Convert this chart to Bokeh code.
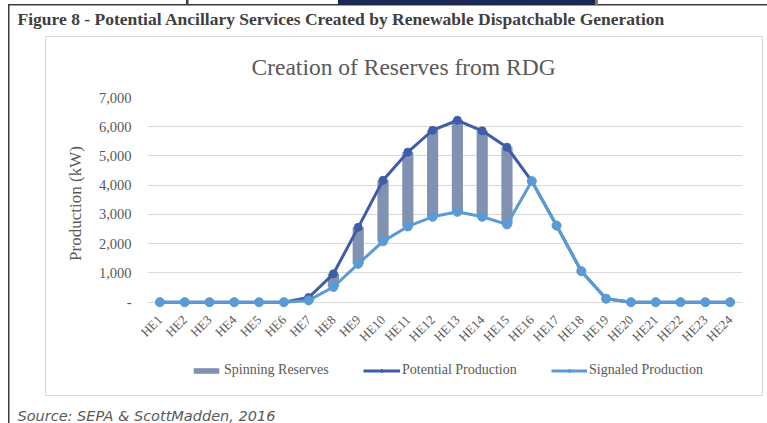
import math
from bokeh.plotting import figure
from bokeh.layouts import column, row
from bokeh.models import (FactorRange, Range1d, FixedTicker, Title, Legend, LegendItem, Label,
                          ColumnDataSource, InlineStyleSheet)
from bokeh.embed import file_html
from bokeh.resources import INLINE

# ---------------- data ----------------
hours = ["HE1", "HE2", "HE3", "HE4", "HE5", "HE6", "HE7", "HE8", "HE9", "HE10", "HE11", "HE12",
         "HE13", "HE14", "HE15", "HE16", "HE17", "HE18", "HE19", "HE20", "HE21", "HE22", "HE23", "HE24"]
potential = [0, 0, 0, 0, 0, 0, 160, 970, 2560, 4170, 5130, 5880,
             6220, 5860, 5300, 4140, 2620, 1060, 120, 0, 0, 0, 0, 0]
signaled = [0, 0, 0, 0, 0, 0, 60, 520, 1310, 2080, 2590, 2920,
            3090, 2920, 2660, 4140, 2620, 1060, 120, 0, 0, 0, 0, 0]
reserves = [pv - sg for pv, sg in zip(potential, signaled)]
y_ticks = [0, 1000, 2000, 3000, 4000, 5000, 6000, 7000]
y_tick_labels = ["-", "1,000", "2,000", "3,000", "4,000", "5,000", "6,000", "7,000"]

fig_title = "Figure 8 - Potential Ancillary Services Created by Renewable Dispatchable Generation"
chart_title = "Creation of Reserves from RDG"
y_label = "Production (kW)"
source_text = "Source: SEPA & ScottMadden, 2016"
series_names = ["Spinning Reserves", "Potential Production", "Signaled Production"]

# ---------------- layout ----------------
W, H = 767, 423
FL, FR, FT, FB = 147, 742, 97, 309
HA = 350            # height of the chart figure
HB = H - HA         # height of the legend / source strip

SERIF = "Liberation Serif"
GRAY = "#595959"
C_RES = "#8091B1"
C_POT = "#3E5CA8"
C_SIG = "#5B9BD5"

src = ColumnDataSource(dict(
    hour=hours, potential=potential, signaled=signaled,
    top=[sg + r for sg, r in zip(signaled, reserves)],
))

p = figure(frame_width=FR - FL, frame_height=FB - FT,
           x_range=FactorRange(*hours, range_padding=0),
           y_range=Range1d(-250, 7000),
           output_backend="svg", toolbar_location=None,
           min_border_left=FL, min_border_right=W - FR,
           min_border_top=FT, min_border_bottom=HA - FB)
p.outline_line_color = None
p.background_fill_color = "white"
p.border_fill_color = "white"
p.xgrid.visible = False
p.ygrid.grid_line_color = "#d9d9d9"
p.ygrid.grid_line_width = 1

# y axis
p.yaxis.ticker = FixedTicker(ticks=y_ticks)
p.yaxis.major_label_overrides = {t: l for t, l in zip(y_ticks, y_tick_labels)}
p.yaxis.axis_line_color = None
p.yaxis.major_tick_line_color = None
p.yaxis.minor_tick_line_color = None
p.yaxis.major_label_standoff = 10
p.yaxis.major_label_text_font = SERIF
p.yaxis.major_label_text_font_size = "14.5px"
p.yaxis.major_label_text_color = GRAY
p.yaxis.axis_label = y_label
p.yaxis.axis_label_text_font = SERIF
p.yaxis.axis_label_text_font_style = "normal"
p.yaxis.axis_label_text_font_size = "17px"
p.yaxis.axis_label_text_color = GRAY
p.yaxis.axis_label_standoff = 11

# x axis
p.xaxis.axis_line_color = None
p.xaxis.major_tick_line_color = None
p.xaxis.minor_tick_line_color = None
p.xaxis.major_label_orientation = math.pi / 4
p.xaxis.major_label_standoff = 2
p.xaxis.major_label_text_font = SERIF
p.xaxis.major_label_text_font_size = "13px"
p.xaxis.major_label_text_color = GRAY

# ---------------- titles (above panel) ----------------
t_chart = Title(text=chart_title, align="left", offset=104, vertical_align="middle",
                text_font=SERIF, text_font_style="normal", text_font_size="23.5px",
                text_color=GRAY, standoff=33)
p.add_layout(t_chart, "above")
t_fig = Title(text=fig_title, align="left", offset=-130, vertical_align="middle",
              text_font=SERIF, text_font_style="bold", text_font_size="17.5px",
              text_color="#404040", standoff=13)
p.add_layout(t_fig, "above")

# ---------------- data glyphs ----------------
p.vbar(x="hour", bottom="signaled", top="top", width=0.45, source=src,
       fill_color=C_RES, line_color=None)
p.line(x="hour", y="potential", source=src, line_color=C_POT, line_width=3)
p.scatter(x="hour", y="potential", source=src, size=8, fill_color=C_POT, line_color=C_POT)
p.line(x="hour", y="signaled", source=src, line_color=C_SIG, line_width=3)
p.scatter(x="hour", y="signaled", source=src, size=9, fill_color=C_SIG, line_color=C_SIG)

# ---------------- legend / source strip ----------------
q = figure(width=W, height=HB, x_range=Range1d(0, 1), y_range=Range1d(0, 1),
           output_backend="svg", toolbar_location=None,
           x_axis_type=None, y_axis_type=None, min_border=0)
q.outline_line_color = None
q.grid.visible = False
q.background_fill_color = "white"
q.border_fill_color = "white"

# legend key proxies: one undefined (NaN) point each, nothing is drawn in the strip
nan = float("nan")
proxy = ColumnDataSource(dict(x=[nan], y=[nan], top=[nan]))
k_bar = q.vbar(x="x", top="top", width=0.1, source=proxy, fill_color=C_RES, line_color=None)
k_pl = q.line(x="x", y="y", source=proxy, line_color=C_POT, line_width=3)
k_ps = q.scatter(x="x", y="y", source=proxy, size=7, fill_color=C_POT, line_color=C_POT)
k_sl = q.line(x="x", y="y", source=proxy, line_color=C_SIG, line_width=3)
k_ss = q.scatter(x="x", y="y", source=proxy, size=7, fill_color=C_SIG, line_color=C_SIG)

legend_specs = [
    (series_names[0], [k_bar], 190, 32),
    (series_names[1], [k_pl, k_ps], 363, 37),
    (series_names[2], [k_sl, k_ss], 551, 36),
]
for name, rends, lx, gw in legend_specs:
    q.add_layout(Legend(items=[LegendItem(label=name, renderers=rends)],
                        location=(lx, HB - (370 - HA) - 6), orientation="horizontal",
                        glyph_width=gw, glyph_height=7, label_standoff=2, padding=0, margin=0,
                        spacing=0, border_line_color=None, background_fill_alpha=0,
                        label_text_font=SERIF, label_text_font_size="14px",
                        label_text_color=GRAY, label_height=15))

q.add_layout(Label(x=17, y=HB - (413 - HA), x_units="screen", y_units="screen",
                   text=source_text, text_baseline="middle", text_align="left",
                   text_font="DejaVu Sans", text_font_style="italic",
                   text_font_size="14.5px", text_color=GRAY))

# ---------------- page decorations (frame lines of the scanned figure) ----------------
css = InlineStyleSheet(css="""
:host::before {
  content: "";
  position: absolute;
  left: 0px; top: 0px; width: 767px; height: 423px;
  pointer-events: none;
  z-index: 10;
  background:
    linear-gradient(#1c2753, #1c2753) 338px 0px / 257px 5px no-repeat,
    linear-gradient(#404040, #404040) 186px 0px / 2.5px 5px no-repeat,
    linear-gradient(#7a7a7a, #7a7a7a) 595px 0px / 3px 5px no-repeat,
    linear-gradient(#3a3a3a, #3a3a3a) 8px 4px / 1.5px 419px no-repeat,
    linear-gradient(#3a3a3a, #3a3a3a) 8px 4px / 759px 1.5px no-repeat;
}
:host::after {
  content: "";
  position: absolute;
  left: 45px; top: 36px; width: 716px; height: 358px;
  border: 1px solid #d9d9d9;
  pointer-events: none;
  z-index: 10;
}
""")
page = column(p, row(q, spacing=0), spacing=0)
page.stylesheets = [css]

open("out.html", "w").write(file_html(page, INLINE))
